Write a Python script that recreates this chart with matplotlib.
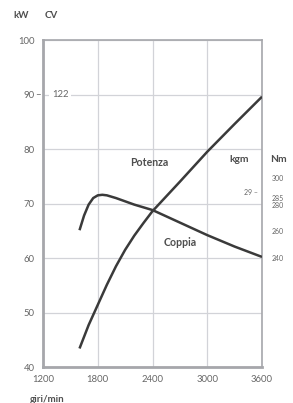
import matplotlib
matplotlib.use("Agg")
import matplotlib.pyplot as plt
import matplotlib.transforms as mtransforms

plt.rcParams["font.family"] = ["Lato", "DejaVu Sans"]

# engine curves (rpm, kW on the left scale)
power_rpm = [1600, 1700, 1800, 1900, 2000, 2100, 2200, 2300, 2400,
             2700, 3000, 3300, 3600]
power_kw = [43.4, 47.7, 51.4, 55.1, 58.5, 61.5, 64.1, 66.4, 68.6,
            74.0, 79.5, 84.6, 89.6]

torque_rpm = [1600, 1650, 1700, 1750, 1800, 1850, 1900, 2000, 2200,
              2400, 2700, 3000, 3300, 3600]
torque_kw = [65.1, 67.8, 69.8, 71.0, 71.5, 71.6, 71.5, 71.0, 69.8,
             68.8, 66.5, 64.2, 62.1, 60.2]

x_ticks = [1200, 1800, 2400, 3000, 3600]
kw_ticks = [40, 50, 60, 70, 80, 90, 100]
nm_ticks = [240, 260, 280, 285, 300]

ink = "#3a3a3a"
label_c = "#666666"
title_c = "#4e4e4e"
grid_c = "#d2d3d8"
spine_c = "#a6a7ab"

fig = plt.figure(figsize=(2.93, 4.03), dpi=100)
ax = fig.add_axes([0.1468, 0.0893, 0.7474, 0.8114])

ax.plot(power_rpm, power_kw, color=ink, lw=1.8, solid_capstyle="butt", zorder=4)
ax.plot(torque_rpm, torque_kw, color=ink, lw=1.8, solid_capstyle="butt", zorder=4)

ax.set_xlim(1200, 3600)
ax.set_ylim(40, 100)
ax.set_xticks(x_ticks)
ax.set_yticks(kw_ticks)
ax.grid(True, color=grid_c, lw=0.9)
ax.tick_params(length=0, labelsize=6.8, labelcolor=label_c)
ax.tick_params(axis="y", pad=6)
ax.tick_params(axis="x", pad=6)

for side in ["left", "bottom"]:
    ax.spines[side].set_color(spine_c)
    ax.spines[side].set_linewidth(2.0)
for side in ["top", "right"]:
    ax.spines[side].set_color(spine_c)
    ax.spines[side].set_linewidth(1.2)

# Nm scale on the right
sec = ax.twinx()
sec.set_ylim(158.4, 403.2)
sec.set_yticks(nm_ticks)
sec.tick_params(length=0, labelsize=5.0, labelcolor=label_c, pad=7)
for s in sec.spines.values():
    s.set_visible(False)

# 90 kW = 122 CV marker
yx = mtransforms.blended_transform_factory(ax.transAxes, ax.transData)
ax.text(-0.025, 90, "\u2013", transform=yx, ha="center", va="center",
        fontsize=7, color=label_c, zorder=6, clip_on=False)
ax.text(0.04, 90, "122", transform=yx, ha="left", va="center",
        fontsize=6.8, color=label_c, zorder=6,
        bbox=dict(boxstyle="square,pad=0.25", fc="white", ec="none"))

# 29 kgm = 285 Nm marker
ax.text(0.98, 72.1, "29 \u2013", transform=yx, ha="right", va="center",
        fontsize=5.0, color=label_c, zorder=6, clip_on=False)

ax.text(2360, 77.6, "Potenza", ha="center", va="center", fontsize=7.6,
        fontweight="bold", color=title_c, zorder=5)
ax.text(2700, 62.9, "Coppia", ha="center", va="center", fontsize=7.6,
        fontweight="bold", color=title_c, zorder=5)
ax.text(3345, 78.0, "kgm", ha="center", va="center", fontsize=7.4,
        fontweight="bold", color=title_c, zorder=5)
ax.text(1.035, 78.0, "Nm", transform=yx, ha="left", va="center", fontsize=7.4,
        fontweight="bold", color=title_c, clip_on=False)

fig.text(0.044, 0.962, "kW", ha="left", va="center", fontsize=7,
         fontweight="bold", color=title_c)
fig.text(0.152, 0.962, "CV", ha="left", va="center", fontsize=7,
         fontweight="bold", color=title_c)
fig.text(0.102, 0.008, "giri/min", ha="left", va="center", fontsize=7,
         fontweight="bold", color=title_c)

fig.savefig("out.png", dpi=100)
